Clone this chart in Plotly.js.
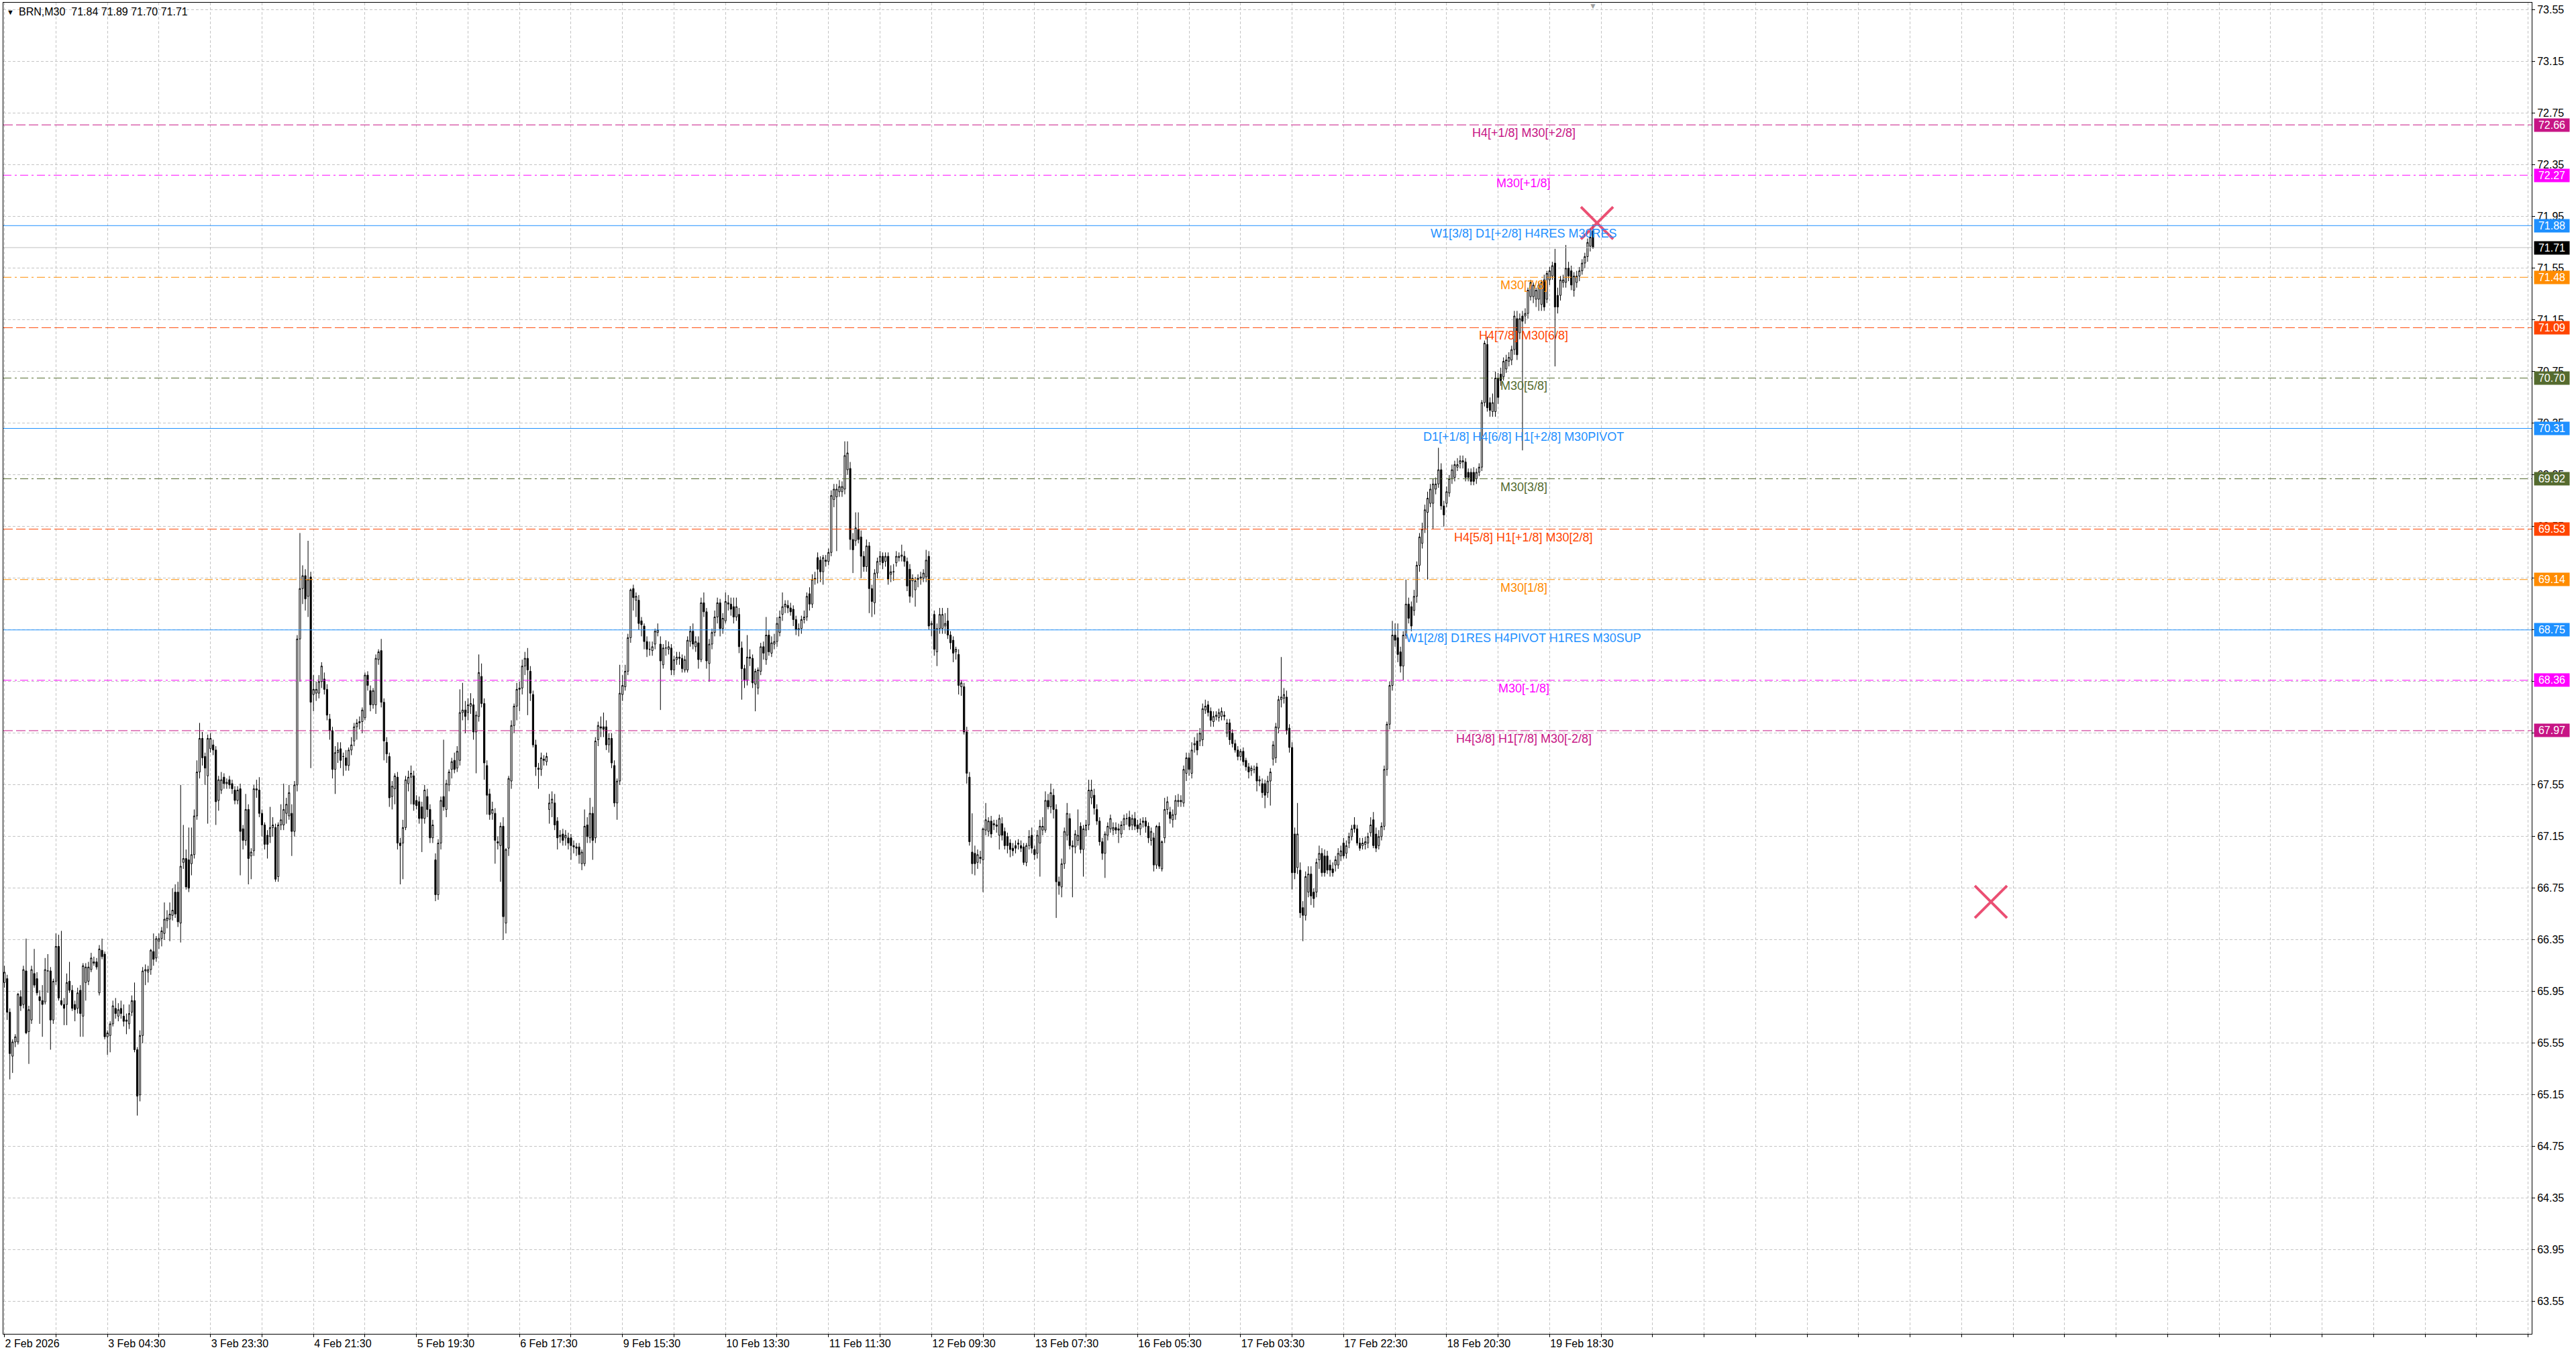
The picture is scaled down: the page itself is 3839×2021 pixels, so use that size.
<!DOCTYPE html>
<html>
<head>
<meta charset="utf-8">
<script src="https://cdn.plot.ly/plotly-3.0.1.min.js"></script>
<style>
  html, body { margin: 0; padding: 0; background: #ffffff; }
  #chart { width: 3839px; height: 2021px; }
</style>
</head>
<body>
<div id="chart"></div>
<script>
// BRN M30 candles (oldest first)
var opens = [
66.02,66.05,65.79,65.45,65.56,65.56,65.91,65.85,66.11,65.64,
65.73,66.09,66.05,65.91,65.88,65.87,66.11,66.11,65.73,66.03,
66.30,65.88,65.85,65.85,66.03,65.96,65.85,65.82,65.96,65.76,
66.02,66.03,66.12,66.18,66.18,65.94,66.27,66.24,65.60,65.61,
65.70,65.82,65.76,65.82,65.76,65.73,65.70,65.79,65.88,65.50,
65.15,65.61,66.11,66.10,66.12,66.26,66.21,66.34,66.36,66.40,
66.50,66.51,66.54,66.72,66.72,66.48,66.95,66.98,66.97,66.94,
67.01,67.31,67.65,67.91,67.77,67.62,67.83,67.86,67.82,67.43,
67.51,67.61,67.56,67.59,67.56,67.51,67.43,67.52,67.21,67.12,
67.36,67.00,67.04,67.51,67.51,67.33,67.24,67.16,67.15,67.22,
67.22,66.84,67.24,67.24,67.33,67.31,67.33,67.19,67.55,68.68,
69.07,69.17,69.01,69.16,68.25,68.26,68.26,68.35,68.37,68.29,
68.06,67.97,67.67,67.80,67.83,67.77,67.76,67.70,67.82,67.89,
68.00,68.03,68.04,68.07,68.40,68.28,68.17,68.17,68.52,68.59,
68.19,67.88,67.77,67.46,67.52,67.61,67.10,67.10,67.22,67.56,
67.61,67.62,67.43,67.42,67.38,67.29,67.46,67.36,67.14,66.97,
66.70,67.10,67.46,67.36,67.55,67.67,67.74,67.68,67.74,68.11,
68.13,68.11,68.16,68.17,67.96,68.08,68.39,68.18,67.70,67.48,
67.33,67.33,67.11,67.08,67.23,66.48,67.06,67.58,68.01,68.16,
68.29,68.30,68.47,68.53,68.43,68.25,67.86,67.68,67.67,67.75,
67.73,67.36,67.41,67.41,67.27,67.15,67.17,67.14,67.14,67.14,
67.08,67.07,67.07,66.94,66.94,67.24,67.14,67.33,67.14,67.90,
68.00,68.00,68.00,67.86,67.91,67.70,67.41,67.58,68.25,68.31,
68.43,68.69,69.07,68.98,68.98,68.82,68.78,68.66,68.60,68.59,
68.64,68.73,68.64,68.48,68.61,68.60,68.61,68.44,68.52,68.54,
68.53,68.44,68.44,68.66,68.74,68.62,68.65,68.52,68.96,68.89,
68.49,68.64,68.73,68.85,68.96,68.76,68.82,68.95,68.95,68.93,
68.85,68.87,68.61,68.45,68.36,68.54,68.53,68.33,68.30,68.43,
68.62,68.52,68.71,68.57,68.64,68.66,68.73,68.87,68.93,68.94,
68.92,68.91,68.83,68.75,68.76,68.83,68.85,69.03,68.95,69.14,
69.31,69.29,69.20,69.29,69.28,69.35,69.76,69.78,69.82,69.82,
69.84,69.99,70.00,69.45,69.44,69.53,69.47,69.32,69.24,69.40,
69.07,68.96,69.19,69.28,69.32,69.28,69.32,69.18,69.20,69.27,
69.31,69.32,69.32,69.28,69.22,69.13,69.06,69.14,69.15,69.15,
69.16,69.32,68.79,68.87,68.58,68.76,68.76,68.78,68.82,68.71,
68.67,68.58,68.56,68.31,68.31,67.96,67.61,67.03,67.02,66.95,
66.99,66.97,67.20,67.19,67.27,67.24,67.24,67.16,67.25,67.19,
67.15,67.10,67.06,67.08,67.09,67.08,67.07,66.95,67.08,67.16,
67.05,67.02,67.10,67.20,67.20,67.43,67.38,67.47,67.36,66.80,
66.76,66.94,67.16,67.29,67.08,67.07,67.12,67.23,67.05,67.20,
67.24,67.45,67.47,67.36,67.27,67.11,67.02,67.16,67.21,67.20,
67.22,67.21,67.17,67.24,67.29,67.30,67.24,67.29,67.24,67.21,
67.26,67.27,67.23,67.12,67.14,66.93,67.23,66.90,67.14,67.36,
67.34,67.28,67.32,67.42,67.43,67.41,67.64,67.76,67.64,67.86,
67.89,67.89,67.90,68.13,68.17,68.12,68.04,68.08,68.07,68.08,
68.09,67.95,68.03,67.95,67.87,67.82,67.77,67.81,67.74,67.69,
67.66,67.67,67.69,67.58,67.56,67.56,67.49,67.58,67.75,67.76,
67.99,68.21,68.22,68.23,67.99,67.84,67.17,66.91,66.89,66.60,
66.54,66.72,66.86,66.72,66.72,66.97,67.02,67.00,67.00,66.93,
66.90,66.93,66.93,67.00,67.10,67.02,67.10,67.15,67.24,67.21,
67.10,67.08,67.09,67.10,67.18,67.28,67.17,67.08,67.15,67.23,
67.67,68.02,68.32,68.71,68.69,68.58,68.47,68.71,68.95,68.93,
68.90,69.01,69.25,69.42,69.53,69.66,69.73,69.73,69.84,69.88,
69.99,69.71,69.73,69.81,69.92,69.93,70.01,70.04,70.06,70.05,
69.97,69.97,69.97,69.92,69.97,70.01,70.51,70.96,70.51,70.44,
70.44,70.70,70.73,70.71,70.77,70.83,70.84,70.92,71.16,71.05,
71.18,71.18,71.20,71.33,71.33,71.31,71.31,71.27,71.46,71.31,
71.46,71.49,71.59,71.34,71.34,71.44,71.44,71.55,71.53,71.38,
71.44,71.49,71.53,71.59,71.64,71.72,71.84
];
var highs = [
66.15,66.08,65.82,65.58,65.62,65.94,65.96,66.15,66.36,65.84,
66.15,66.28,66.10,65.96,66.00,66.21,66.24,66.14,66.05,66.40,
66.39,66.42,65.90,66.09,66.18,66.00,65.88,65.98,66.00,66.17,
66.17,66.18,66.25,66.22,66.21,66.31,66.36,66.26,65.65,65.72,
65.88,65.90,65.86,65.88,65.85,65.78,65.85,65.92,66.02,65.52,
65.65,66.14,66.16,66.15,66.28,66.40,66.38,66.40,66.45,66.64,
66.58,66.64,66.75,66.78,66.80,67.55,67.24,67.05,67.22,67.22,
67.36,67.74,68.03,67.96,67.80,67.94,67.95,67.90,67.85,67.62,
67.65,67.64,67.60,67.62,67.59,67.54,67.54,67.56,67.24,67.48,
67.40,67.06,67.55,67.59,67.61,67.36,67.26,67.20,67.38,67.30,
67.25,67.26,67.40,67.56,67.45,67.55,67.40,67.58,68.71,69.50,
69.25,69.22,69.44,69.20,68.40,68.35,68.40,68.50,68.42,68.33,
68.10,68.00,67.85,67.88,67.88,67.80,67.82,67.84,67.92,68.03,
68.06,68.08,68.15,68.42,68.43,68.32,68.30,68.56,68.60,68.68,
68.22,67.92,67.80,67.58,67.64,67.65,67.14,67.28,67.62,67.66,
67.70,67.66,67.47,67.46,67.42,67.55,67.52,67.40,67.28,67.02,
67.13,67.46,67.90,67.59,67.67,67.76,67.80,67.85,68.29,68.34,
68.20,68.22,68.26,68.22,68.12,68.56,68.49,68.22,67.74,67.52,
67.42,67.37,67.15,67.26,67.30,67.06,67.62,68.05,68.18,68.34,
68.35,68.52,68.58,68.61,68.47,68.28,67.90,67.72,67.80,67.78,
67.80,67.48,67.50,67.48,67.30,67.20,67.21,67.20,67.18,67.17,
67.12,67.10,67.10,67.05,67.36,67.30,67.45,67.38,67.92,68.04,
68.08,68.11,68.05,67.95,67.95,67.74,67.60,68.48,68.40,68.48,
68.72,69.07,69.10,69.04,69.02,68.85,68.80,68.70,68.66,68.66,
68.76,68.80,68.70,68.64,68.67,68.66,68.64,68.55,68.58,68.58,
68.56,68.55,68.70,68.78,68.80,68.70,68.70,69.00,69.04,68.92,
68.68,68.76,68.90,69.00,68.99,68.88,69.04,69.02,69.00,69.00,
69.00,68.92,68.66,68.48,68.71,68.60,68.56,68.45,68.46,68.65,
68.66,68.85,68.75,68.70,68.72,68.85,68.90,69.04,68.98,68.98,
68.96,68.94,68.86,68.80,68.86,68.90,69.04,69.08,69.18,69.20,
69.35,69.32,69.33,69.33,69.38,69.83,69.88,69.88,69.91,69.90,
70.21,70.21,70.05,69.50,69.66,69.66,69.52,69.36,69.45,69.43,
69.10,69.22,69.31,69.36,69.35,69.35,69.35,69.25,69.26,69.36,
69.35,69.41,69.36,69.31,69.26,69.18,69.16,69.18,69.20,69.22,
69.37,69.36,68.82,68.90,68.80,68.92,68.92,68.88,68.92,68.74,
68.70,68.62,68.60,68.36,68.34,68.00,67.65,67.33,67.08,67.05,
67.04,67.22,67.41,67.30,67.31,67.28,67.28,67.32,67.30,67.22,
67.18,67.13,67.10,67.12,67.13,67.12,67.10,67.10,67.20,67.22,
67.08,67.20,67.28,67.30,67.50,67.48,67.56,67.52,67.40,66.84,
66.98,67.22,67.41,67.33,67.12,67.20,67.36,67.26,67.24,67.28,
67.59,67.59,67.52,67.40,67.30,67.14,67.19,67.26,67.32,67.26,
67.26,67.25,67.27,67.32,67.33,67.35,67.32,67.34,67.28,67.29,
67.30,67.30,67.26,67.22,67.18,67.24,67.26,67.12,67.45,67.46,
67.38,67.36,67.47,67.48,67.47,67.70,67.80,67.80,67.88,67.92,
67.95,67.99,68.18,68.21,68.20,68.15,68.12,68.12,68.14,68.15,
68.12,68.06,68.06,67.98,67.90,67.85,67.83,67.84,67.76,67.72,
67.70,67.70,67.72,67.62,67.60,67.59,67.62,67.68,67.89,68.03,
68.24,68.54,68.30,68.28,68.02,67.88,67.22,67.41,66.95,66.65,
66.88,66.92,66.92,66.75,66.98,67.08,67.06,67.05,67.04,66.97,
66.95,67.00,67.06,67.08,67.14,67.12,67.18,67.24,67.30,67.24,
67.14,67.14,67.15,67.18,67.30,67.34,67.22,67.20,67.26,67.70,
68.04,68.35,68.82,68.80,68.80,68.62,68.74,69.14,69.00,68.97,
69.06,69.28,69.50,69.58,69.72,69.82,69.88,69.92,69.93,70.16,
70.04,69.75,69.86,69.95,70.03,70.06,70.08,70.10,70.10,70.08,
70.00,70.00,70.01,70.00,70.04,70.53,70.99,71.02,70.55,70.58,
70.75,70.74,70.78,70.86,70.88,70.90,70.95,71.22,71.22,71.20,
71.22,71.24,71.40,71.46,71.44,71.40,71.44,71.46,71.50,71.53,
71.56,71.60,71.70,71.40,71.49,71.50,71.73,71.60,71.57,71.52,
71.53,71.56,71.62,71.67,71.78,71.86,71.89
];
var lows = [
65.98,65.73,65.27,65.32,65.52,65.54,65.80,65.82,65.62,65.39,
65.70,65.98,65.92,65.70,65.60,65.85,65.94,65.50,65.70,66.00,
65.88,65.84,65.69,65.69,65.94,65.80,65.72,65.78,65.60,65.60,
65.88,66.00,66.10,66.15,66.12,65.92,66.20,65.58,65.46,65.48,
65.68,65.74,65.72,65.74,65.68,65.62,65.66,65.76,65.48,64.99,
65.10,65.55,66.00,66.02,66.08,66.15,66.18,66.28,66.30,66.35,
66.44,66.34,66.50,66.52,66.45,66.33,66.90,66.74,66.72,66.85,
66.98,67.28,67.60,67.70,67.55,67.25,67.80,67.78,67.24,67.35,
67.48,67.52,67.52,67.52,67.48,67.40,67.40,66.85,67.05,67.08,
66.78,66.82,67.00,67.45,67.30,67.15,67.05,66.98,67.10,67.15,
66.80,66.80,67.20,67.20,67.25,67.28,67.00,67.15,67.50,68.35,
68.95,68.90,68.85,67.68,68.12,68.20,68.22,68.30,68.25,68.05,
67.90,67.60,67.48,67.72,67.68,67.62,67.66,67.66,67.78,67.85,
67.90,67.98,67.95,68.05,68.28,68.12,68.14,68.10,68.48,68.15,
67.74,67.72,67.38,67.36,67.40,67.05,66.78,66.82,67.20,67.50,
67.40,67.35,67.36,67.25,67.03,67.25,67.30,67.10,67.10,66.65,
66.66,67.05,67.35,67.30,67.50,67.60,67.64,67.65,67.70,68.05,
67.95,68.05,68.10,67.90,67.64,68.04,68.15,67.59,67.32,67.28,
67.28,66.94,67.05,66.80,66.35,66.40,67.00,67.52,67.95,68.05,
68.12,68.25,68.40,68.09,68.20,67.84,67.62,67.52,67.62,67.70,
67.70,67.25,67.30,67.20,67.05,67.10,67.08,67.08,67.05,66.97,
67.02,67.00,66.94,66.89,66.92,67.10,67.10,66.97,67.10,67.85,
67.92,67.92,67.82,67.80,67.68,67.38,67.28,67.55,68.20,68.28,
68.40,68.65,68.90,68.85,68.75,68.70,68.60,68.54,68.55,68.55,
68.60,68.70,68.13,68.45,68.55,68.56,68.40,68.40,68.48,68.48,
68.42,68.42,68.42,68.62,68.60,68.58,68.45,68.50,68.85,68.45,
68.35,68.60,68.70,68.80,68.70,68.72,68.80,68.90,68.86,68.80,
68.82,68.57,68.21,68.30,68.32,68.47,68.30,68.12,68.25,68.40,
68.52,68.48,68.55,68.54,68.60,68.62,68.70,68.82,68.88,68.88,
68.86,68.78,68.71,68.70,68.72,68.80,68.82,68.90,68.92,69.10,
69.11,69.12,69.10,69.24,69.25,69.32,69.70,69.36,69.78,69.78,
69.80,69.95,69.37,69.19,69.40,69.42,69.15,69.20,69.20,68.88,
68.85,68.87,69.15,69.25,69.22,69.24,69.10,69.12,69.13,69.24,
69.28,69.28,69.24,69.05,68.96,69.00,68.93,69.08,69.10,69.12,
69.12,68.75,68.70,68.55,68.47,68.72,68.72,68.72,68.68,68.60,
68.50,68.52,68.25,68.24,67.94,67.56,67.08,66.86,66.85,66.90,
66.94,66.72,67.16,67.15,67.14,67.20,67.18,67.05,67.12,67.05,
67.02,66.99,67.00,67.02,67.05,67.03,66.93,66.92,67.05,67.02,
66.97,66.98,66.84,67.16,67.18,67.36,67.33,67.29,66.52,66.70,
66.68,66.90,67.12,67.05,66.68,67.02,67.08,67.02,66.84,67.15,
67.20,67.40,67.32,67.24,67.08,66.97,66.83,67.12,67.18,67.16,
67.17,67.10,67.14,67.20,67.24,67.20,67.20,67.20,67.18,67.16,
67.22,67.18,67.10,67.08,66.88,66.90,66.90,66.88,67.10,67.32,
67.25,67.22,67.28,67.38,67.38,67.38,67.58,67.62,67.60,67.80,
67.78,67.85,67.85,68.10,68.08,68.00,68.00,68.05,68.04,68.05,
68.05,67.92,67.86,67.84,67.80,67.74,67.74,67.70,67.66,67.60,
67.62,67.64,67.50,67.54,67.45,67.37,67.45,67.39,67.70,67.72,
67.95,68.15,68.18,67.94,67.80,66.74,66.82,66.86,66.52,66.34,
66.50,66.68,66.62,66.60,66.68,66.90,66.84,66.84,66.86,66.84,
66.84,66.88,66.90,66.96,66.98,66.98,67.06,67.12,67.18,67.08,
67.04,67.05,67.05,67.06,67.15,67.06,67.03,67.05,67.12,67.20,
67.62,67.98,68.28,68.62,68.50,68.42,68.36,68.68,68.80,68.74,
68.86,68.96,69.20,69.38,69.50,69.14,69.70,69.53,69.80,69.85,
69.68,69.55,69.70,69.78,69.88,69.90,69.98,70.00,70.00,69.90,
69.90,69.87,69.87,69.88,69.94,69.98,70.48,70.44,70.40,70.40,
70.40,70.50,70.64,70.68,70.74,70.79,70.80,70.88,70.84,71.00,
70.14,71.12,71.16,71.30,71.28,71.25,71.22,71.22,71.22,71.28,
71.42,71.46,70.79,71.20,71.30,71.40,71.40,71.45,71.38,71.33,
71.40,71.45,71.50,71.55,71.60,71.68,71.70
];
var closes = [
66.10,65.79,65.47,65.56,65.60,65.93,65.84,66.12,65.63,65.81,
66.12,66.00,65.94,65.88,65.85,66.12,66.11,65.73,66.03,66.30,
65.90,65.85,65.82,66.02,65.96,65.82,65.81,65.94,65.78,66.15,
66.14,66.14,66.21,66.17,66.14,66.28,66.22,65.60,65.63,65.70,
65.84,65.78,65.81,65.78,65.72,65.72,65.78,65.88,65.50,65.14,
65.61,66.11,66.12,66.12,66.27,66.20,66.36,66.36,66.42,66.51,
66.52,66.55,66.58,66.55,66.49,66.92,66.98,66.76,66.75,67.01,
67.31,67.65,67.91,67.76,67.68,67.91,67.91,67.82,67.42,67.59,
67.59,67.56,67.57,67.55,67.52,67.43,67.51,67.19,67.12,67.36,
66.98,67.03,67.52,67.52,67.33,67.24,67.09,67.09,67.22,67.24,
66.82,67.24,67.28,67.36,67.40,67.49,67.19,67.55,68.68,69.07,
69.17,68.99,69.14,68.19,68.29,68.29,68.35,68.47,68.29,68.09,
67.97,67.67,67.80,67.82,67.74,67.77,67.70,67.82,67.86,68.00,
68.03,68.04,68.13,68.40,68.32,68.17,68.28,68.53,68.58,68.19,
67.89,67.79,67.45,67.54,67.62,67.10,67.08,67.22,67.59,67.61,
67.64,67.40,67.39,67.29,67.29,67.51,67.36,67.14,67.24,66.70,
67.10,67.43,67.38,67.56,67.65,67.73,67.67,67.81,68.11,68.13,
68.08,68.17,68.18,67.96,68.09,68.42,68.18,67.72,67.47,67.32,
67.36,67.12,67.10,67.23,66.53,67.05,67.60,68.01,68.16,68.29,
68.30,68.47,68.53,68.44,68.26,67.86,67.69,67.67,67.76,67.74,
67.77,67.41,67.44,67.24,67.14,67.16,67.12,67.16,67.10,67.08,
67.07,67.06,67.01,67.03,67.23,67.15,67.33,67.12,67.89,68.01,
67.99,67.98,67.86,67.91,67.72,67.41,67.58,68.26,68.32,68.43,
68.69,69.06,69.00,69.01,68.80,68.79,68.66,68.60,68.60,68.62,
68.74,68.75,68.51,68.61,68.61,68.62,68.44,68.52,68.54,68.53,
68.45,68.52,68.67,68.74,68.64,68.66,68.52,68.96,68.89,68.51,
68.64,68.73,68.85,68.96,68.76,68.84,68.97,68.96,68.91,68.85,
68.93,68.62,68.45,68.36,68.54,68.53,68.34,68.43,68.44,68.62,
68.57,68.71,68.58,68.65,68.66,68.80,68.85,68.93,68.95,68.92,
68.89,68.83,68.75,68.76,68.83,68.85,69.01,68.95,69.14,69.15,
69.22,69.20,69.31,69.28,69.35,69.79,69.84,69.84,69.86,69.86,
70.10,70.12,69.45,69.37,69.54,69.45,69.32,69.24,69.40,69.07,
68.97,69.19,69.28,69.32,69.27,69.32,69.14,69.20,69.20,69.32,
69.32,69.33,69.28,69.09,69.01,69.15,69.13,69.15,69.16,69.19,
69.29,68.78,68.80,68.60,68.76,68.87,68.87,68.80,68.71,68.65,
68.57,68.60,68.32,68.34,67.96,67.64,67.11,66.94,66.94,67.01,
66.98,67.21,67.28,67.27,67.17,67.25,67.23,67.29,67.16,67.08,
67.08,67.05,67.04,67.06,67.10,67.06,66.95,67.08,67.15,67.06,
67.01,67.16,67.23,67.23,67.43,67.38,67.49,67.36,66.80,66.77,
66.94,67.19,67.33,67.08,67.07,67.17,67.16,67.05,67.21,67.24,
67.51,67.51,67.37,67.27,67.11,67.02,67.17,67.23,67.29,67.22,
67.20,67.20,67.24,67.29,67.29,67.23,67.29,67.23,67.21,67.25,
67.27,67.23,67.14,67.19,66.93,67.23,66.92,67.11,67.36,67.42,
67.29,67.32,67.43,67.43,67.42,67.67,67.76,67.67,67.82,67.87,
67.82,67.95,68.14,68.16,68.11,68.05,68.08,68.09,68.11,68.12,
68.08,68.03,67.90,67.87,67.82,67.77,67.81,67.73,67.69,67.65,
67.68,67.67,67.58,67.59,67.49,67.47,67.58,67.65,67.86,68.00,
68.21,68.23,68.25,67.97,67.84,66.87,66.87,67.17,66.56,66.54,
66.84,66.86,66.69,66.67,66.95,67.02,66.87,66.87,66.89,66.89,
66.87,66.97,67.02,67.04,67.00,67.08,67.15,67.21,67.21,67.10,
67.06,67.10,67.11,67.15,67.24,67.08,67.06,67.15,67.23,67.67,
68.02,68.32,68.71,68.67,68.56,68.47,68.71,68.95,68.84,68.78,
69.01,69.25,69.47,69.53,69.68,69.77,69.84,69.88,69.88,69.99,
69.71,69.64,69.82,69.92,69.99,70.03,70.03,70.06,70.05,69.93,
69.93,69.90,69.90,69.97,70.01,70.51,70.97,70.47,70.45,70.51,
70.70,70.55,70.68,70.83,70.84,70.86,70.92,71.18,70.88,71.16,
71.14,71.20,71.38,71.44,71.42,71.38,71.42,71.44,71.25,71.51,
71.53,71.57,71.25,71.25,71.46,71.46,71.55,71.49,71.42,71.49,
71.49,71.53,71.59,71.64,71.75,71.79,71.71
];

// time-axis labels, one every 38 bars
var timeLabels = ['2 Feb 2026', '3 Feb 04:30', '3 Feb 23:30', '4 Feb 21:30', '5 Feb 19:30',
  '6 Feb 17:30', '9 Feb 15:30', '10 Feb 13:30', '11 Feb 11:30', '12 Feb 09:30',
  '13 Feb 07:30', '16 Feb 05:30', '17 Feb 03:30', '17 Feb 22:30', '18 Feb 20:30', '19 Feb 18:30'];

// Murrey math levels
var levelValues = [72.66, 72.27, 71.88, 71.48, 71.09, 70.70, 70.31, 69.92, 69.53, 69.14, 68.75, 68.36, 67.97];
var levelNames = ['H4[+1/8] M30[+2/8]', 'M30[+1/8]', 'W1[3/8] D1[+2/8] H4RES M30RES', 'M30[7/8]',
  'H4[7/8] M30[6/8]', 'M30[5/8]', 'D1[+1/8] H4[6/8] H1[+2/8] M30PIVOT', 'M30[3/8]',
  'H4[5/8] H1[+1/8] M30[2/8]', 'M30[1/8]', 'W1[2/8] D1RES H4PIVOT H1RES M30SUP', 'M30[-1/8]',
  'H4[3/8] H1[7/8] M30[-2/8]'];

// the two red crosses drawn on the chart (bar index, price)
var crossBars = [587.5, 732.8];
var crossPrices = [71.90, 66.645];

// styles
var levelColors = ['#C71585', '#FF00FF', '#1E90FF', '#FF8C00', '#FF4500', '#556B2F', '#1E90FF',
  '#556B2F', '#FF4500', '#FF8C00', '#1E90FF', '#FF00FF', '#C71585'];
var DASH = '14px,5px', DASHDOT = '12px,5px,3px,5px';
var levelDash = [DASH, DASHDOT, 'solid', DASHDOT, DASH, DASHDOT, 'solid', DASHDOT, DASH, DASHDOT, 'solid', DASHDOT, DASH];

var FONT = 'Liberation Sans, Arial, sans-serif';
var barsPerLabel = 38;
var xMin = -0.4, xMax = 932.3;
var labelBar = 560.5;

var xs = closes.map(function (_, i) { return i; });
var last = closes.length - 1;

var candles = {
  type: 'candlestick',
  x: xs, open: opens, high: highs, low: lows, close: closes,
  increasing: { line: { color: '#000000', width: 1 }, fillcolor: '#ffffff' },
  decreasing: { line: { color: '#000000', width: 1 }, fillcolor: '#000000' },
  whiskerwidth: 0,
  hoverinfo: 'skip'
};

var crosses = {
  type: 'scatter', mode: 'markers',
  x: crossBars, y: crossPrices,
  marker: { symbol: 'x-thin', size: 48, color: 'rgba(232,48,90,0.85)',
            line: { width: 4, color: 'rgba(232,48,90,0.85)' } },
  hoverinfo: 'skip'
};

// x ticks: grid every half label step, text on every full step
var tickVals = [], tickText = [];
for (var t = 0; t <= xMax; t += barsPerLabel / 2) {
  tickVals.push(t);
  var k = t / barsPerLabel;
  tickText.push(Number.isInteger(k) && k < timeLabels.length ? timeLabels[k] : '');
}

var shapes = [];
var annotations = [];
levelValues.forEach(function (v, i) {
  shapes.push({ type: 'line', xref: 'paper', x0: 0, x1: 1, yref: 'y', y0: v, y1: v, layer: 'above',
    line: { color: levelColors[i], width: 1, dash: levelDash[i] } });
  annotations.push({ x: labelBar, y: v, xref: 'x', yref: 'y', xanchor: 'center', yanchor: 'top',
    yshift: 0, showarrow: false, text: levelNames[i],
    font: { family: FONT, size: 18, color: levelColors[i] } });
  annotations.push({ x: 1, xref: 'paper', y: v, yref: 'y', xanchor: 'left', yanchor: 'middle',
    xshift: 3, showarrow: false, text: v.toFixed(2), bgcolor: levelColors[i],
    width: 50, height: 17, borderpad: 1,
    font: { family: FONT, size: 16, color: '#ffffff' } });
});

// current price line + label
shapes.push({ type: 'line', xref: 'paper', x0: 0, x1: 1, yref: 'y', y0: closes[last], y1: closes[last],
  layer: 'above', line: { color: '#C0C0C0', width: 1 } });
annotations.push({ x: 1, xref: 'paper', y: closes[last], yref: 'y', xanchor: 'left', yanchor: 'middle',
  xshift: 3, showarrow: false, text: closes[last].toFixed(2), bgcolor: '#000000',
  width: 50, height: 17, borderpad: 1, font: { family: FONT, size: 16, color: '#ffffff' } });

// header
annotations.push({ x: 0, y: 1, xref: 'paper', yref: 'paper', xanchor: 'left', yanchor: 'top',
  xshift: 3, yshift: -6, showarrow: false, text: '▼', font: { family: FONT, size: 11, color: '#000000' } });
annotations.push({ x: 0, y: 1, xref: 'paper', yref: 'paper', xanchor: 'left', yanchor: 'top',
  xshift: 21, yshift: -3, showarrow: false,
  text: 'BRN,M30\u00a0\u00a0' + [opens[last], highs[last], lows[last], closes[last]].map(function (v) { return v.toFixed(2); }).join(' '),
  font: { family: FONT, size: 16, color: '#000000' } });

// chart-shift marker
annotations.push({ x: last, y: 1, xref: 'x', yref: 'paper', xanchor: 'center', yanchor: 'top',
  yshift: 4, showarrow: false, text: '▼', font: { family: FONT, size: 12, color: '#A0A0A0' } });

var layout = {
  width: 3839, height: 2021,
  margin: { l: 5, r: 66, t: 4, b: 33 },
  paper_bgcolor: '#ffffff', plot_bgcolor: '#ffffff',
  showlegend: false, hovermode: false, boxgap: 0.25,
  font: { family: FONT, size: 16, color: '#000000' },
  xaxis: {
    type: 'linear', range: [xMin, xMax], fixedrange: true,
    rangeslider: { visible: false },
    tickmode: 'array', tickvals: tickVals, ticktext: tickText,
    ticklabelposition: 'outside right',
    ticks: 'outside', ticklen: 4, tickcolor: '#000000',
    showgrid: true, gridcolor: '#C4C4C4', griddash: '4px,3px', gridwidth: 1,
    showline: true, linecolor: '#000000', linewidth: 1, mirror: true,
    zeroline: false, tickfont: { family: FONT, size: 16, color: '#000000' }
  },
  yaxis: {
    side: 'right', range: [63.30, 73.606], fixedrange: true,
    tickmode: 'linear', tick0: 63.55, dtick: 0.4, tickformat: '.2f',
    ticks: 'outside', ticklen: 4, tickcolor: '#000000',
    showgrid: true, gridcolor: '#C4C4C4', griddash: '4px,3px', gridwidth: 1,
    showline: true, linecolor: '#000000', linewidth: 1, mirror: true,
    zeroline: false, tickfont: { family: FONT, size: 16, color: '#000000' }
  },
  shapes: shapes,
  annotations: annotations
};

Plotly.newPlot('chart', [candles, crosses], layout, { staticPlot: true, displayModeBar: false });
</script>
</body>
</html>
